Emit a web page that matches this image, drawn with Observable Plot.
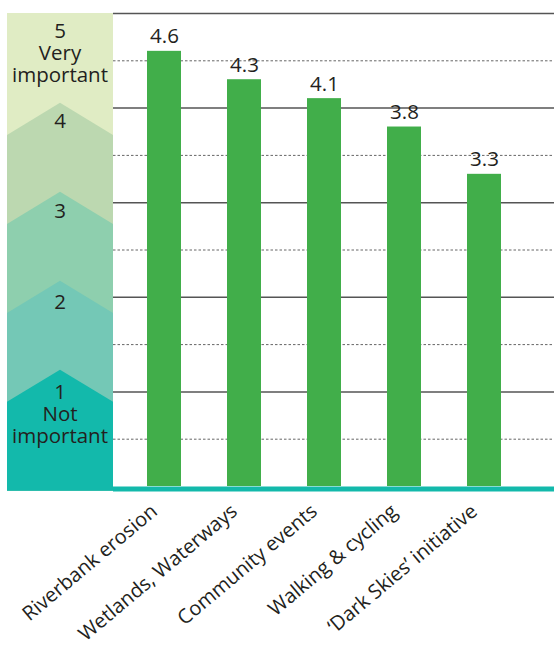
<!DOCTYPE html>
<html>
<head>
<meta charset="utf-8">
<script src="https://cdn.jsdelivr.net/npm/d3@7"></script>
<script src="https://cdn.jsdelivr.net/npm/@observablehq/plot@0.6"></script>
<style>
  html, body { margin: 0; padding: 0; background: #fff; }
  #chart svg { display: block; }
</style>
</head>
<body>
<div id="chart"></div>
<script>
// ---- data ----
const categories = ["Riverbank erosion", "Wetlands, Waterways", "Community events", "Walking & cycling", "‘Dark Skies’ initiative"];
const values = [4.6, 4.3, 4.1, 3.8, 3.3];
const majorTicks = [1, 2, 3, 4, 5];
const minorTicks = [0.5, 1.5, 2.5, 3.5, 4.5];
const levels = [5, 4, 3, 2, 1];
const levelNotes = ["Very\nimportant", "", "", "", "Not\nimportant"];
const chevronLevels = [4, 3, 2, 1];

// ---- styles ----
const FONT = "'Open Sans', sans-serif";
const FS = 20.5;
const TFS = 20;
const barColor = "#41ae4a";
const teal = "#13b9ab";
const panelTop = "#e0ecc4";
const chevronColors = {4: "#bcd8b0", 3: "#8ecfae", 2: "#74c8b6", 1: teal};

const data = categories.map((c, i) => ({category: c, value: values[i]}));
const labelY = k => 0.955 * k + 0.04;
const levelRows = levels.map((k, i) => ({level: k, y: labelY(k), note: levelNotes[i]}));

const chart = Plot.plot({
  width: 554,
  height: 646,
  marginLeft: 113,
  marginRight: 0,
  marginTop: 13,
  marginBottom: 160,
  style: {fontFamily: FONT, fontSize: FS + "px", color: "#231f20", background: "#fff"},
  x: {type: "band", domain: categories, range: [121.6, 525.6], paddingInner: 0.58, paddingOuter: 0.29},
  y: {domain: [0, 5]},
  marks: [
    Plot.ruleY(minorTicks, {stroke: "#666", strokeWidth: 1, strokeDasharray: "2.5,2"}),
    Plot.ruleY(majorTicks, {stroke: "#555", strokeWidth: 1.5}),
    Plot.barY(data, {x: "category", y: "value", fill: barColor}),
    Plot.ruleY([0], {stroke: teal, strokeWidth: 5, dy: 2.5}),
    Plot.text(data, {x: "category", y: "value", text: d => d.value.toFixed(1), dy: -8, lineAnchor: "bottom", fontSize: FS, fill: "#231f20"}),
    Plot.axisX({tickRotate: -40, tickSize: 0, tickPadding: 22, dx: -10, fontSize: TFS, label: null, fill: "#231f20"}),
    Plot.axisY({ticks: [], label: null})
  ]
});

// ---- left importance panel (drawn in the plot's y scale) ----
const y = chart.scale("y");
const svg = d3.select(chart);
const panel = svg.insert("g", ":first-child");
const px0 = 7, px1 = 113, pxm = 60;
const yBottom = y.apply(0) + 4.7;
panel.append("rect")
  .attr("x", px0).attr("y", y.apply(5))
  .attr("width", px1 - px0).attr("height", yBottom - y.apply(5))
  .attr("fill", panelTop);
for (const k of chevronLevels) {
  const side = y.apply(0.94 * k - 0.05);
  const peak = y.apply(0.94 * k + 0.29);
  panel.append("path")
    .attr("d", `M${px0},${yBottom}L${px0},${side}L${pxm},${peak}L${px1},${side}L${px1},${yBottom}Z`)
    .attr("fill", chevronColors[k]);
}
const lbl = svg.append("g")
  .attr("font-family", FONT).attr("font-size", FS).attr("fill", "#231f20").attr("text-anchor", "middle");
for (const r of levelRows) {
  const cy = y.apply(r.y);
  lbl.append("text").attr("x", pxm).attr("y", cy).attr("dy", "0.35em").text(r.level);
  const lines = r.note ? r.note.split("\n") : [];
  lines.forEach((t, j) => {
    lbl.append("text").attr("x", pxm).attr("y", cy + 22 * (j + 1)).attr("dy", "0.35em").text(t);
  });
}

document.getElementById("chart").appendChild(chart);
</script>
</body>
</html>
